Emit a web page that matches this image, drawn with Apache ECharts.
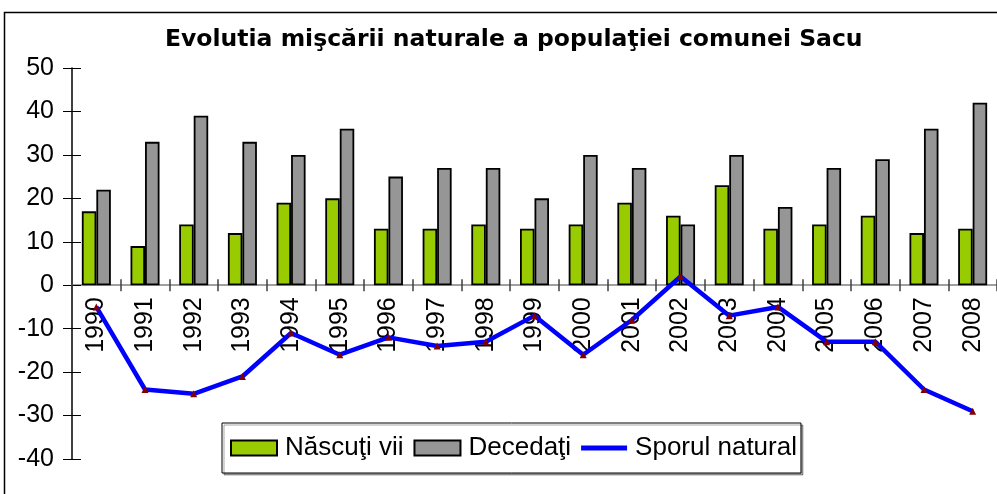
<!DOCTYPE html>
<html>
<head>
<meta charset="utf-8">
<script src="https://cdn.jsdelivr.net/npm/echarts@6/dist/echarts.min.js"></script>
<style>
  html, body { margin: 0; padding: 0; background: #fff; }
  #chart { width: 997px; height: 494px; }
</style>
</head>
<body>
<div id="chart"></div>
<script>
// date
const years = ["1990", "1991", "1992", "1993", "1994", "1995", "1996", "1997", "1998", "1999",
  "2000", "2001", "2002", "2003", "2004", "2005", "2006", "2007", "2008"]
const nascuti = [17, 9, 14, 12, 19, 20, 13, 13, 14, 13, 14, 19, 16, 23, 13, 14, 16, 12, 13]
const decedati = [22, 33, 39, 33, 30, 36, 25, 27, 27, 20, 30, 27, 14, 30, 18, 27, 29, 36, 42]
const sporul = [-5, -24, -25, -21, -11, -16, -12, -14, -13, -7, -16, -8, 2, -7, -5, -13, -13, -24, -29]

const yMin = -40
const yMax = 50
const font = "Liberation Sans, Arial, sans-serif"

// grila
const gridTop = 68
const gridBottom = 35
const gridH = 494 - gridTop - gridBottom
// axa x sta pe linia lui 0
const zeroOffset = -gridH * (0 - yMin) / (yMax - yMin)

const chart = echarts.init(document.getElementById("chart"))

const yBase = {
  type: "value",
  min: yMin,
  max: yMax,
  interval: 10,
  splitLine: { show: false },
}

const option = {
  animation: false,
  backgroundColor: "#fff",
  textStyle: { fontFamily: font },
  title: {
    text: "Evolutia mişcării naturale a populaţiei comunei Sacu",
    left: 165,
    top: 28,
    padding: 0,
    textStyle: { fontSize: 23.5, fontWeight: "bold", color: "#000", fontFamily: "DejaVu Sans" },
  },
  legend: {
    left: 222,
    top: 423,
    padding: [12, 4, 12, 8],
    itemGap: 10,
    itemWidth: 46,
    itemHeight: 15,
    borderColor: "#000",
    borderWidth: 1,
    backgroundColor: "#fff",
    shadowColor: "rgba(0,0,0,0.35)",
    shadowOffsetX: 2,
    shadowOffsetY: 2,
    textStyle: { fontSize: 26, color: "#000", fontFamily: font, padding: [0, 0, 0, 3] },
    data: [
      { name: "Născuţi vii", icon: "rect" },
      { name: "Decedaţi", icon: "rect" },
      {
        name: "Sporul natural",
        icon: "path://M0 0 M0 5 L46 5 L46 10 L0 10 Z M46 15",
        itemStyle: { color: "#0000FF", borderWidth: 0 },
      },
    ],
  },
  grid: { left: 72, right: 0, top: gridTop, bottom: gridBottom, outerBoundsMode: "none" },
  xAxis: [
    {
      type: "category",
      data: years,
      offset: zeroOffset,
      axisLine: { onZero: false, lineStyle: { color: "#808080", width: 1.5 } },
      axisTick: { show: true, length: 6, lineStyle: { color: "#404040", width: 1.5 } },
      axisLabel: { rotate: 90, fontSize: 25, color: "#000", margin: 12, fontFamily: font },
    },
    {
      // doar liniutele de deasupra axei
      type: "category",
      data: years,
      position: "bottom",
      offset: zeroOffset,
      axisLine: { show: false, onZero: false },
      axisTick: { show: true, inside: true, length: 6, lineStyle: { color: "#404040", width: 1.5 } },
      axisLabel: { show: false },
    },
  ],
  yAxis: [
    Object.assign({}, yBase, {
      axisLine: { show: true, lineStyle: { color: "#000", width: 1.5 } },
      axisTick: { show: true, length: 9, lineStyle: { color: "#000", width: 1 } },
      axisLabel: { fontSize: 25, color: "#000", margin: 18, fontFamily: font },
    }),
    Object.assign({}, yBase, {
      position: "left",
      axisLine: { show: false },
      axisTick: { show: true, inside: true, length: 9, lineStyle: { color: "#000", width: 1 } },
      axisLabel: { show: false },
    }),
  ],
  series: [
    {
      name: "Născuţi vii",
      type: "bar",
      data: nascuti,
      barWidth: 14.5,
      barGap: "0%",
      itemStyle: { color: "#99CC00", borderColor: "#000", borderWidth: 1.8 },
    },
    {
      name: "Decedaţi",
      type: "bar",
      data: decedati,
      barWidth: 14.5,
      barGap: "0%",
      itemStyle: { color: "#969696", borderColor: "#000", borderWidth: 1.8 },
    },
    {
      name: "Sporul natural",
      type: "line",
      data: sporul,
      z: 5,
      symbol: "triangle",
      symbolSize: 7,
      lineStyle: { color: "#0000FF", width: 4.5 },
      itemStyle: { color: "#800000" },
    },
  ],
  graphic: [
    {
      type: "rect",
      shape: { x: 4.5, y: 12.5, width: 1100, height: 600 },
      style: { fill: null, stroke: "#000", lineWidth: 1.5 },
      silent: true,
      z: 100,
    },
  ],
}

chart.setOption(option)
</script>
</body>
</html>
